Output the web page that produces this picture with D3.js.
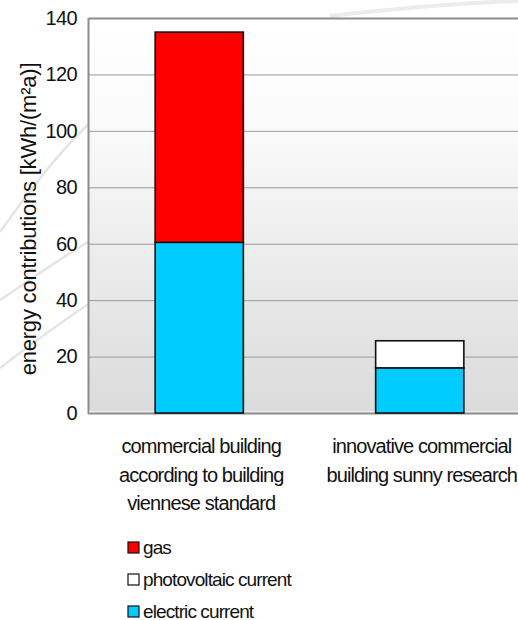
<!DOCTYPE html>
<html>
<head>
<meta charset="utf-8">
<script src="https://cdn.jsdelivr.net/npm/d3@7"></script>
<style>
  html, body { margin: 0; padding: 0; background: #ffffff; }
  svg { display: block; font-family: "Liberation Sans", Arial, sans-serif; }
</style>
</head>
<body>
<svg id="chart" width="518" height="620"></svg>
<script>
// Energy contributions per building type, stacked by source
const categories = [
  ["commercial building", "according to building", "viennese standard"],
  ["innovative commercial", "building sunny research"]
];
const seriesNames = ["electric current", "photovoltaic current", "gas"];
const electricValues = [60.5, 16];
const photovoltaicValues = [0, 9.6];
const gasValues = [74.5, 0];
const yTicks = [0, 20, 40, 60, 80, 100, 120, 140];
const legendOrder = ["gas", "photovoltaic current", "electric current"];
const colors = { "gas": "#ff0000", "photovoltaic current": "#ffffff", "electric current": "#00ccff" };
const yTitle = "energy contributions [kWh/(m\u00b2a)]";

const svg = d3.select("#chart");
const plot = { left: 89, right: 530, top: 18, bottom: 413 };

const rows = categories.map((c, i) => ({
  key: i,
  "electric current": electricValues[i],
  "photovoltaic current": photovoltaicValues[i],
  "gas": gasValues[i]
}));
const stacked = d3.stack().keys(seriesNames)(rows);

const x = d3.scaleBand().domain(d3.range(categories.length))
  .range([plot.left, plot.right]).paddingInner(0.6).paddingOuter(0.3);
const y = d3.scaleLinear().domain([0, 140]).range([plot.bottom, plot.top]);

// plot background gradient
const defs = svg.append("defs");
const grad = defs.append("linearGradient").attr("id", "bg")
  .attr("x1", 0).attr("y1", 0).attr("x2", 0).attr("y2", 1);
grad.append("stop").attr("offset", "0%").attr("stop-color", "#ffffff");
grad.append("stop").attr("offset", "25%").attr("stop-color", "#fbfbfb");
grad.append("stop").attr("offset", "100%").attr("stop-color", "#dbdbdb");

// faint decorative swooshes in the background
const swoosh = svg.append("g").attr("fill", "none").attr("stroke", "#e4e4e4").attr("stroke-width", 2.5);
swoosh.append("path").attr("d", "M0,232 C30,190 60,150 95,118");
swoosh.append("path").attr("d", "M0,300 C30,280 60,258 95,238");
swoosh.append("path").attr("d", "M0,368 C30,345 60,322 95,300");
swoosh.append("path").attr("stroke-width", 4).attr("stroke", "#ececec")
  .attr("d", "M330,16 C400,8 460,3 518,1");

// plot area background
svg.append("rect")
  .attr("x", plot.left).attr("y", plot.top)
  .attr("width", plot.right - plot.left).attr("height", plot.bottom - plot.top)
  .attr("fill", "url(#bg)");

// horizontal gridlines
svg.append("g").selectAll("line").data(yTicks.filter(t => t > 0 && t < 140)).join("line")
  .attr("x1", plot.left).attr("x2", plot.right)
  .attr("y1", d => y(d) + 0.5).attr("y2", d => y(d) + 0.5)
  .attr("stroke", "#9a9a9a").attr("stroke-width", 1);

// plot frame: top, left, bottom
svg.append("line").attr("x1", plot.left).attr("x2", plot.right)
  .attr("y1", y(140) + 0.5).attr("y2", y(140) + 0.5)
  .attr("stroke", "#8c8c8c").attr("stroke-width", 2);
svg.append("line").attr("x1", plot.left - 0.5).attr("x2", plot.left - 0.5)
  .attr("y1", plot.top).attr("y2", plot.bottom + 1)
  .attr("stroke", "#8c8c8c").attr("stroke-width", 2);
svg.append("line").attr("x1", plot.left).attr("x2", plot.right)
  .attr("y1", plot.bottom - 1).attr("y2", plot.bottom - 1)
  .attr("stroke", "#ffffff").attr("stroke-width", 1);
svg.append("line").attr("x1", plot.left - 1).attr("x2", plot.right)
  .attr("y1", plot.bottom + 0.5).attr("y2", plot.bottom + 0.5)
  .attr("stroke", "#8c8c8c").attr("stroke-width", 2);

// stacked bars
svg.append("g").selectAll("g").data(stacked).join("g")
  .attr("fill", d => colors[d.key])
  .selectAll("rect").data(d => d.filter(s => s[1] - s[0] > 0)).join("rect")
  .attr("x", d => x(d.data.key))
  .attr("width", x.bandwidth())
  .attr("y", d => y(d[1]))
  .attr("height", d => y(d[0]) - y(d[1]))
  .attr("stroke", "#111111").attr("stroke-width", 1.6);

// y axis labels
const yAxis = d3.axisLeft(y).tickValues(yTicks).tickSize(0).tickPadding(12);
const yg = svg.append("g").attr("transform", `translate(${plot.left},0)`).call(yAxis);
yg.select(".domain").remove();
yg.selectAll("text")
  .attr("font-size", 20).attr("fill", "#111")
  .attr("letter-spacing", -0.6)
  .style("font-family", '"Liberation Sans", Arial, sans-serif');

// y axis title
svg.append("text")
  .attr("transform", "translate(36,219) rotate(-90)")
  .attr("text-anchor", "middle")
  .attr("font-size", 22).attr("fill", "#111")
  .attr("letter-spacing", -0.2)
  .text(yTitle);

// category labels
const catG = svg.append("g").selectAll("text").data(categories).join("text")
  .attr("text-anchor", "middle")
  .attr("font-size", 20).attr("fill", "#111")
  .attr("letter-spacing", -0.9)
  .attr("x", (d, i) => x(i) + x.bandwidth() / 2 + 2);
catG.selectAll("tspan").data(d => d).join("tspan")
  .attr("x", function () { return d3.select(this.parentNode).attr("x"); })
  .attr("y", (d, i) => 453 + i * 28.5)
  .text(d => d);

// legend
const lg = svg.append("g").selectAll("g").data(legendOrder).join("g")
  .attr("transform", (d, i) => `translate(128,${542 + i * 32})`);
lg.append("rect").attr("width", 11).attr("height", 11)
  .attr("fill", d => colors[d]).attr("stroke", "#111").attr("stroke-width", 1.2);
lg.append("text").attr("x", 15).attr("y", 11.5)
  .attr("font-size", 19).attr("letter-spacing", -0.9).attr("fill", "#111")
  .text(d => d);
</script>
</body>
</html>
